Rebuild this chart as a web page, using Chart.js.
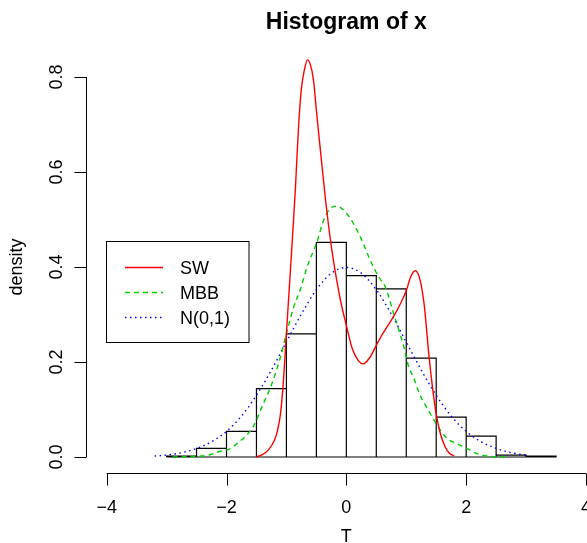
<!DOCTYPE html>
<html>
<head>
<meta charset="utf-8">
<script src="https://cdn.jsdelivr.net/npm/chart.js@4"></script>
<style>
  html, body { margin: 0; padding: 0; background: #fff; }
  #wrap { width: 587px; height: 543px; }
</style>
</head>
<body>
<div id="wrap"><canvas id="histo"></canvas></div>
<script>
// histogram of x (bins of width 0.5, from -3 to 3.5)
const binMids = [-2.75, -2.25, -1.75, -1.25, -0.75, -0.25, 0.25, 0.75, 1.25, 1.75, 2.25, 2.75, 3.25];
const histDensity = [0.002, 0.018, 0.054, 0.144, 0.259, 0.452, 0.382, 0.354, 0.208, 0.084, 0.044, 0.004, 0.002];
const binWidth = 0.5;

// SW density (red)
const swX = [-1.5, -1.4, -1.3, -1.2, -1.15, -1.1, -1.05, -1.0, -0.95, -0.9, -0.85, -0.8, -0.75, -0.7, -0.65, -0.6, -0.55, -0.5, -0.45, -0.4, -0.35, -0.3, -0.25, -0.2, -0.1, 0, 0.1, 0.2, 0.28, 0.4, 0.5, 0.6, 0.7, 0.8, 0.9, 1.0, 1.07, 1.15, 1.23, 1.3, 1.37, 1.43, 1.5, 1.57, 1.65, 1.72, 1.8];
const swY = [0, 0.005, 0.015, 0.035, 0.055, 0.09, 0.16, 0.26, 0.36, 0.46, 0.565, 0.69, 0.775, 0.815, 0.836, 0.826, 0.795, 0.73, 0.667, 0.605, 0.545, 0.49, 0.443, 0.402, 0.331, 0.277, 0.228, 0.203, 0.196, 0.211, 0.235, 0.258, 0.278, 0.298, 0.322, 0.35, 0.378, 0.392, 0.373, 0.32, 0.225, 0.155, 0.09, 0.049, 0.021, 0.008, 0.002];

// MBB density (green)
const mbbX = [-2.9, -2.6, -2.3, -2.13, -1.93, -1.79, -1.66, -1.54, -1.41, -1.24, -1.1, -0.99, -0.88, -0.77, -0.65, -0.49, -0.38, -0.27, -0.16, 0.01, 0.12, 0.26, 0.4, 0.54, 0.65, 0.79, 0.87, 0.96, 1.04, 1.12, 1.23, 1.32, 1.48, 1.68, 1.85, 2.01, 2.18, 2.35, 2.65];
const mbbY = [0, 0.001, 0.004, 0.011, 0.018, 0.032, 0.046, 0.067, 0.105, 0.155, 0.21, 0.265, 0.315, 0.352, 0.402, 0.453, 0.498, 0.523, 0.528, 0.512, 0.491, 0.456, 0.414, 0.379, 0.358, 0.302, 0.27, 0.232, 0.19, 0.168, 0.13, 0.109, 0.074, 0.039, 0.028, 0.018, 0.007, 0.002, 0];

// N(0,1) (blue)
const normX = [-3.2, -3, -2.75, -2.5, -2.25, -2, -1.75, -1.5, -1.25, -1, -0.75, -0.5, -0.25, 0, 0.25, 0.5, 0.75, 1, 1.25, 1.5, 1.75, 2, 2.25, 2.5, 2.75, 3];
const normY = [0.002, 0.004, 0.009, 0.018, 0.032, 0.054, 0.086, 0.13, 0.183, 0.242, 0.301, 0.352, 0.387, 0.399, 0.387, 0.352, 0.301, 0.242, 0.183, 0.13, 0.086, 0.054, 0.032, 0.018, 0.009, 0.004];

const xTickValues = [-4, -2, 0, 2, 4];
const xTickLabels = ['\u22124', '\u22122', '0', '2', '4'];
const yTickValues = [0, 0.2, 0.4, 0.6, 0.8];
const yTickLabels = ['0.0', '0.2', '0.4', '0.6', '0.8'];

const FONT = '"Liberation Sans", Arial, Helvetica, sans-serif';

function pts(xs, ys) {
    return xs.map((x, i) => ({ x: x, y: ys[i] }));
}

// outline of the histogram rectangles, walked as one polyline
function histOutline() {
    const out = [];
    binMids.forEach((m, i) => {
        const l = m - binWidth / 2, r = m + binWidth / 2;
        out.push({ x: l, y: 0 }, { x: l, y: histDensity[i] }, { x: r, y: histDensity[i] }, { x: r, y: 0 });
    });
    out.push({ x: binMids[0] - binWidth / 2, y: 0 });
    return out;
}

// R style axes, titles
const rAxes = {
    id: 'rAxes',
    afterDraw(chart) {
        const ctx = chart.ctx;
        const xs = chart.scales.x, ys = chart.scales.y;
        const area = chart.chartArea;
        ctx.save();
        ctx.strokeStyle = '#000';
        ctx.lineWidth = 1;
        ctx.fillStyle = '#000';
        ctx.font = '18px ' + FONT;

        // x axis
        const ax = Math.round(area.bottom) - 0.5;
        ctx.beginPath();
        ctx.moveTo(xs.getPixelForValue(xTickValues[0]), ax);
        ctx.lineTo(xs.getPixelForValue(xTickValues[xTickValues.length - 1]), ax);
        xTickValues.forEach(v => {
            const px = Math.round(xs.getPixelForValue(v)) + 0.5;
            ctx.moveTo(px, ax);
            ctx.lineTo(px, ax + 12);
        });
        ctx.stroke();
        ctx.textAlign = 'center';
        ctx.textBaseline = 'alphabetic';
        xTickValues.forEach((v, i) => {
            ctx.fillText(xTickLabels[i], xs.getPixelForValue(v), 512.5);
        });
        ctx.fillText('T', xs.getPixelForValue(0), 541.5);

        // y axis
        const ay = Math.round(area.left) + 0.5;
        ctx.beginPath();
        ctx.moveTo(ay, ys.getPixelForValue(yTickValues[0]));
        ctx.lineTo(ay, ys.getPixelForValue(yTickValues[yTickValues.length - 1]));
        yTickValues.forEach(v => {
            const py = Math.round(ys.getPixelForValue(v)) + 0.5;
            ctx.moveTo(ay, py);
            ctx.lineTo(ay - 12, py);
        });
        ctx.stroke();
        ctx.textBaseline = 'middle';
        yTickValues.forEach((v, i) => {
            ctx.save();
            ctx.translate(ay - 29, ys.getPixelForValue(v));
            ctx.rotate(-Math.PI / 2);
            ctx.fillText(yTickLabels[i], 0, 0);
            ctx.restore();
        });
        ctx.save();
        ctx.translate(17, (ys.getPixelForValue(0) + ys.getPixelForValue(0.8)) / 2);
        ctx.rotate(-Math.PI / 2);
        ctx.fillText('density', 0, 0);
        ctx.restore();

        // main title
        ctx.font = 'bold 23px ' + FONT;
        ctx.textBaseline = 'alphabetic';
        ctx.fillText('Histogram of x', xs.getPixelForValue(0), 28.5);
        ctx.restore();
    }
};

// legend box like R's legend()
const rLegend = {
    id: 'rLegend',
    afterDraw(chart) {
        const ctx = chart.ctx;
        const box = { x: 106.5, y: 241.5, w: 142.5, h: 101 };
        ctx.save();
        ctx.strokeStyle = '#000';
        ctx.lineWidth = 1;
        ctx.strokeRect(box.x, box.y, box.w, box.h);
        ctx.font = '18px ' + FONT;
        ctx.textAlign = 'left';
        ctx.textBaseline = 'alphabetic';
        ctx.fillStyle = '#000';
        const lines = chart.data.datasets.filter(d => d.label !== 'hist');
        lines.forEach((d, i) => {
            const y = 267.5 + i * 25;
            ctx.beginPath();
            ctx.setLineDash(d.borderDash || []);
            ctx.strokeStyle = d.borderColor;
            ctx.lineWidth = d.borderWidth;
            ctx.moveTo(125, y);
            ctx.lineTo(163, y);
            ctx.stroke();
            ctx.fillText(d.label, 180, y + 6);
        });
        ctx.restore();
    }
};

new Chart(document.getElementById('histo'), {
    type: 'line',
    data: {
        datasets: [
            {
                label: 'SW',
                data: pts(swX, swY),
                borderColor: '#ff0000',
                borderWidth: 1.4,
                pointRadius: 0,
                cubicInterpolationMode: 'monotone',
                order: 1
            },
            {
                label: 'MBB',
                data: pts(mbbX, mbbY),
                borderColor: '#00cd00',
                borderWidth: 1.4,
                borderDash: [5, 4],
                pointRadius: 0,
                cubicInterpolationMode: 'monotone',
                order: 2
            },
            {
                label: 'N(0,1)',
                data: pts(normX, normY),
                borderColor: '#0000ff',
                borderWidth: 1.4,
                borderDash: [1.5, 3.5],
                pointRadius: 0,
                cubicInterpolationMode: 'monotone',
                order: 3
            },
            {
                label: 'hist',
                data: histOutline(),
                borderColor: '#000',
                borderWidth: 1.2,
                tension: 0,
                pointRadius: 0,
                order: 4
            }
        ]
    },
    options: {
        responsive: true,
        maintainAspectRatio: false,
        animation: false,
        events: [],
        layout: { padding: { left: 85.7, right: 1, top: 53.25, bottom: 69.4 } },
        scales: {
            x: {
                type: 'linear',
                display: false,
                min: -4.35,
                max: 4.0
            },
            y: {
                type: 'linear',
                display: false,
                min: -0.035,
                max: 0.85
            }
        },
        plugins: {
            legend: { display: false },
            title: { display: false },
            tooltip: { enabled: false }
        }
    },
    plugins: [rAxes, rLegend]
});
</script>
</body>
</html>
